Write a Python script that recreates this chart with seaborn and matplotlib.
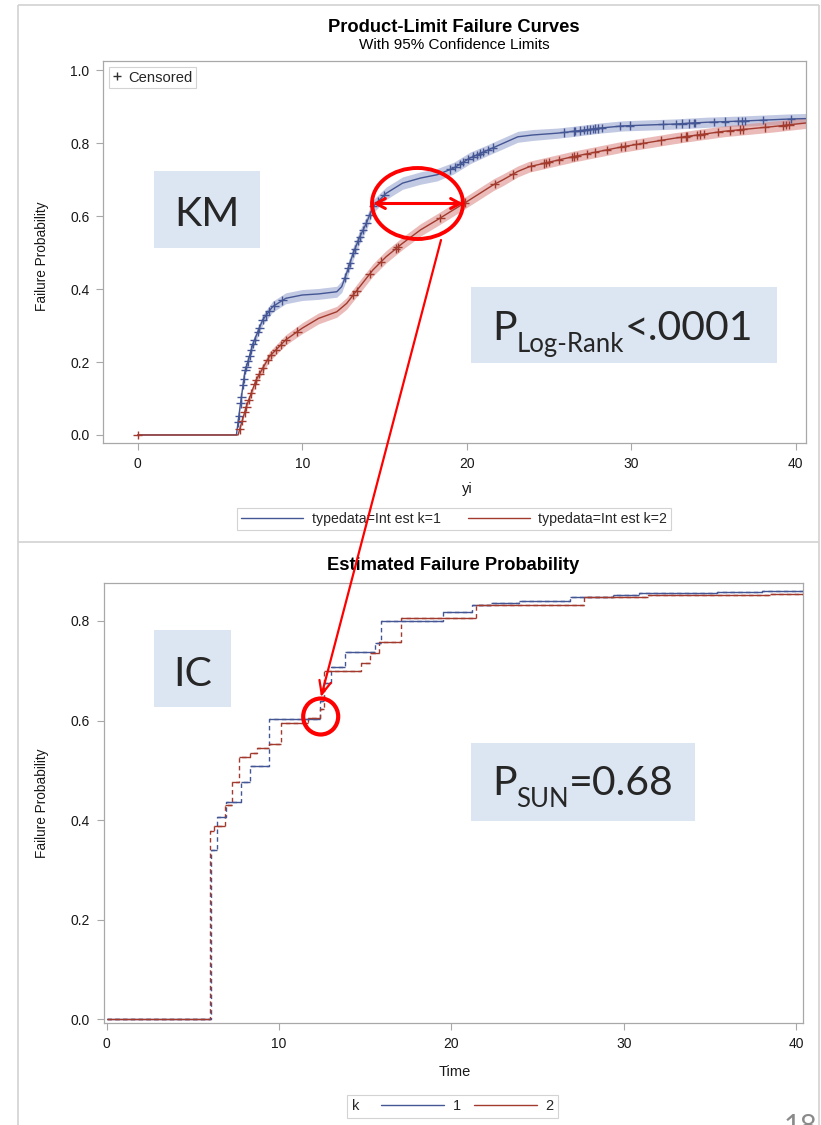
import numpy as np
import pandas as pd
import matplotlib
matplotlib.use("Agg")
import matplotlib.pyplot as plt
import seaborn as sns
from matplotlib.patches import Rectangle, Ellipse
from matplotlib.lines import Line2D
from matplotlib.offsetbox import HPacker

# ---------------------------------------------------------------- data
# Kaplan-Meier failure curves (product-limit estimate) per group
km_time_1 = [0, 6.0, 6.2, 6.5, 7.0, 7.6, 8.2, 9.0, 10.0, 11.0, 12.1, 12.4, 12.7,
             13.1, 13.5, 13.9, 14.3, 15.1, 16.1, 17.2, 18.2, 19.2, 20.2, 21.2,
             22.2, 23.1, 24.0, 25.5, 26.5, 28.1, 29.5, 32.6, 34.6, 36.6, 39.7, 40.6]
km_prob_1 = [0, 0, 0.07, 0.17, 0.25, 0.316, 0.352, 0.375, 0.384, 0.387, 0.393,
             0.407, 0.444, 0.499, 0.544, 0.581, 0.627, 0.663, 0.691, 0.705, 0.714,
             0.732, 0.76, 0.78, 0.80, 0.818, 0.823, 0.828, 0.833, 0.842, 0.848,
             0.853, 0.858, 0.861, 0.867, 0.868]
km_ci_1 = [0, 0, 0.006, 0.009, 0.012, 0.014, 0.015, 0.015, 0.015, 0.015, 0.015,
           0.016, 0.017, 0.018, 0.018, 0.018, 0.018, 0.017, 0.017, 0.017, 0.017,
           0.016, 0.016, 0.015, 0.015, 0.015, 0.015, 0.014, 0.014, 0.014, 0.014,
           0.014, 0.014, 0.014, 0.014, 0.014]

km_time_2 = [0, 6.1, 6.6, 7.2, 8.0, 9.0, 10.0, 11.0, 12.1, 12.7, 13.5, 14.3, 15.1,
             16.1, 17.2, 18.2, 19.2, 20.0, 20.8, 21.6, 22.2, 23.1, 23.8, 26.5,
             29.5, 32.6, 35.6, 38.6, 40.6]
km_prob_2 = [0, 0, 0.078, 0.151, 0.215, 0.261, 0.293, 0.32, 0.338, 0.361, 0.407,
             0.453, 0.489, 0.526, 0.563, 0.59, 0.618, 0.64, 0.663, 0.686, 0.70,
             0.723, 0.736, 0.764, 0.791, 0.814, 0.833, 0.846, 0.856]
km_ci_2 = [0, 0, 0.008, 0.011, 0.013, 0.014, 0.015, 0.015, 0.015, 0.016, 0.017,
           0.017, 0.017, 0.017, 0.017, 0.017, 0.017, 0.016, 0.016, 0.016, 0.016,
           0.015, 0.015, 0.015, 0.015, 0.015, 0.015, 0.015, 0.015]

# censoring times per group
censor_time_1 = [6.1, 6.15, 6.25, 6.3, 6.4, 6.45, 6.55, 6.6, 6.7, 6.8, 6.9, 7.0,
                 7.1, 7.3, 7.4, 7.6, 7.8, 8.0, 8.3, 8.8, 12.6, 12.8, 12.9, 13.1,
                 13.2, 13.4, 13.5, 13.7, 13.9, 14.1, 14.3, 14.6, 15.0, 19.0, 19.3,
                 19.6, 19.8, 20.1, 20.4, 20.6, 20.8, 21.0, 21.3, 21.6, 25.9, 26.5,
                 26.6, 26.9, 27.1, 27.3, 27.5, 27.7, 27.8, 28.0, 28.2, 29.3, 29.9,
                 31.9, 32.7, 33.1, 33.5, 33.8, 33.9, 35.0, 35.7, 36.5, 36.7, 36.9,
                 38.0, 39.7]
censor_time_2 = [0, 6.2, 6.35, 6.5, 6.6, 6.75, 6.9, 7.1, 7.2, 7.4, 7.6, 7.9, 8.1,
                 8.4, 8.7, 9.0, 9.7, 13.1, 13.3, 14.1, 14.8, 15.7, 15.8, 18.4, 19.9,
                 21.7, 22.8, 23.9, 24.7, 24.8, 25.0, 25.6, 26.4, 26.5, 26.7, 27.3,
                 27.8, 28.5, 29.4, 29.6, 30.3, 30.7, 31.8, 33.0, 33.3, 33.4, 34.0,
                 34.2, 34.4, 35.3, 36.0, 36.6, 36.8, 38.1, 39.2, 39.4, 39.6]

# interval-censored (Turnbull) failure probability estimates
ic_time_1 = [0, 6.05, 6.37, 6.9, 7.8, 8.3, 9.44, 12.35, 12.6, 13.0, 13.85, 15.55,
             15.9, 19.5, 21.2, 22.3, 23.9, 26.9, 29.4, 30.9, 35.4, 38.0, 40.4]
ic_prob_1 = [0, 0.339, 0.407, 0.437, 0.477, 0.509, 0.604, 0.640, 0.675, 0.708,
             0.738, 0.755, 0.800, 0.818, 0.832, 0.835, 0.839, 0.847, 0.853, 0.857,
             0.859, 0.861, 0.861]
ic_time_2 = [0, 5.98, 6.22, 6.85, 7.25, 7.65, 8.3, 8.7, 9.44, 10.1, 11.7, 12.35,
             12.6, 14.73, 15.3, 15.8, 17.1, 21.44, 27.7, 31.4, 38.5, 40.4]
ic_prob_2 = [0, 0.379, 0.389, 0.43, 0.477, 0.527, 0.534, 0.545, 0.553, 0.594,
             0.606, 0.624, 0.70, 0.715, 0.735, 0.758, 0.805, 0.832, 0.847, 0.852,
             0.854, 0.854]

group_labels = ["1", "2"]
km_legend_labels = ["typedata=Int est k=1", "typedata=Int est k=2"]
x_ticks = [0, 10, 20, 30, 40]
top_y_ticks = [0.0, 0.2, 0.4, 0.6, 0.8, 1.0]
bottom_y_ticks = [0.0, 0.2, 0.4, 0.6, 0.8]

# ---------------------------------------------------------------- style
sns.set_theme(style="white")
plt.rcParams["font.family"] = ["Liberation Sans", "DejaVu Sans"]

BLUE = "#445694"
RED = "#A23A2E"
palette = {"1": BLUE, "2": RED}
band_colors = {"1": "#9aa6d0", "2": "#dc8f8a"}
SPINE = "#a8a8a8"
TEXT = "#181818"
CALLOUT = "#ff0000"
BOXFILL = "#dce6f2"

W, H = 821, 1125
fig = plt.figure(figsize=(W / 100, H / 100), dpi=100)


def px_axes(left, top, right, bottom):
    return fig.add_axes([left / W, 1 - bottom / H, (right - left) / W, (bottom - top) / H])


def style_axes(ax):
    for s in ax.spines.values():
        s.set_color(SPINE)
        s.set_linewidth(0.9)
    ax.tick_params(axis="both", which="major", direction="out", length=4.7,
                   width=0.8, color=SPINE, labelsize=10, labelcolor=TEXT, pad=5.3,
                   bottom=True, left=True)
    ax.grid(False)


km = pd.concat([
    pd.DataFrame({"time": km_time_1, "prob": km_prob_1, "ci": km_ci_1, "k": "1"}),
    pd.DataFrame({"time": km_time_2, "prob": km_prob_2, "ci": km_ci_2, "k": "2"}),
], ignore_index=True)

cens = pd.concat([
    pd.DataFrame({"time": censor_time_1, "k": "1",
                  "prob": np.interp(censor_time_1, km_time_1, km_prob_1)}),
    pd.DataFrame({"time": censor_time_2, "k": "2",
                  "prob": np.interp(censor_time_2, km_time_2, km_prob_2)}),
], ignore_index=True)

ic = pd.concat([
    pd.DataFrame({"time": ic_time_1, "prob": ic_prob_1, "k": "1"}),
    pd.DataFrame({"time": ic_time_2, "prob": ic_prob_2, "k": "2"}),
], ignore_index=True)

# ---------------------------------------------------------------- top: KM curves
ax1 = px_axes(103.3, 61, 805.7, 443)
style_axes(ax1)
for g, d in km.groupby("k"):
    ax1.fill_between(d["time"], d["prob"] - d["ci"], d["prob"] + d["ci"],
                     color=band_colors[g], alpha=0.6, lw=0, zorder=1)
sns.lineplot(data=km, x="time", y="prob", hue="k", palette=palette,
             estimator=None, sort=False, lw=1.0, legend=False, ax=ax1, zorder=3)
sns.scatterplot(data=cens, x="time", y="prob", hue="k", palette=palette,
                marker="+", s=38, linewidth=1.0, legend=False, ax=ax1, zorder=4)
ax1.set_xlim(-2.09, 40.6)
ax1.set_ylim(-0.022, 1.026)
ax1.set_xticks(x_ticks)
ax1.set_yticks(top_y_ticks)
ax1.yaxis.set_major_formatter(matplotlib.ticker.FormatStrFormatter("%.1f"))
ax1.set_xlabel("yi", fontsize=10.5, color=TEXT)
ax1.set_ylabel("Failure Probability", fontsize=9.8, color=TEXT)
ax1.xaxis.set_label_coords(0.518, -0.12)
ax1.xaxis.label.set_va("center")
ax1.yaxis.set_label_coords(-0.0873, 0.49)
ax1.yaxis.label.set_va("center")

cens_leg = ax1.legend(handles=[Line2D([], [], marker="+", ls="none", color="#303030",
                                      ms=5.5, mew=1.0)],
                      labels=["Censored"], loc="upper left", fontsize=10.6,
                      frameon=True, fancybox=False, edgecolor="#c8c8c8",
                      handlelength=0.6, handletextpad=0.45, borderpad=0.25,
                      borderaxespad=0.4)
cens_leg.get_frame().set_linewidth(0.8)

fig.text(454 / W, 1 - 27 / H, "Product-Limit Failure Curves", ha="center",
         va="center", fontsize=13.2, fontweight="bold", color="#000000")
fig.text(454.5 / W, 1 - 45 / H, "With 95% Confidence Limits", ha="center",
         va="center", fontsize=11, color="#000000")

top_leg = fig.legend(handles=[Line2D([], [], color=BLUE, lw=1.0),
                              Line2D([], [], color=RED, lw=1.0)],
                     labels=km_legend_labels, loc="center",
                     bbox_to_anchor=(454 / W, 1 - 519 / H), ncol=2, fontsize=10.2,
                     frameon=True, fancybox=False, edgecolor="#c8c8c8",
                     handlelength=4.4, handletextpad=0.6, columnspacing=1.9,
                     borderpad=0.3)
top_leg.get_frame().set_linewidth(0.8)

# ---------------------------------------------------------------- bottom: IC estimates
ax2 = px_axes(104, 583.3, 803.3, 1022.7)
style_axes(ax2)
sns.lineplot(data=ic, x="time", y="prob", hue="k", palette=palette,
             estimator=None, sort=False, lw=1.0, legend=False, ax=ax2,
             drawstyle="steps-post", linestyle=(0, (3.2, 2.4)), zorder=3)
for g, d in ic.groupby("k"):
    t = d["time"].to_numpy()
    p = d["prob"].to_numpy()
    ax2.hlines(p[:-1], t[:-1], t[1:], color=palette[g], lw=1.0, zorder=3)
ax2.set_xlim(-0.16, 40.42)
ax2.set_ylim(-0.0068, 0.8755)
ax2.set_xticks(x_ticks)
ax2.set_yticks(bottom_y_ticks)
ax2.yaxis.set_major_formatter(matplotlib.ticker.FormatStrFormatter("%.1f"))
ax2.set_xlabel("Time", fontsize=10.5, color=TEXT)
ax2.set_ylabel("Failure Probability", fontsize=9.8, color=TEXT)
ax2.xaxis.set_label_coords(0.502, -0.112)
ax2.xaxis.label.set_va("center")
ax2.yaxis.set_label_coords(-0.0887, 0.5)
ax2.yaxis.label.set_va("center")

fig.text(453 / W, 1 - 565 / H, "Estimated Failure Probability", ha="center",
         va="center", fontsize=13.2, fontweight="bold", color="#000000")

bot_leg = fig.legend(handles=[Line2D([], [], color=BLUE, lw=1.0),
                              Line2D([], [], color=RED, lw=1.0)],
                     labels=group_labels, title="k", loc="center",
                     bbox_to_anchor=(452.5 / W, 1 - 1106.5 / H), ncol=2,
                     fontsize=10.5, title_fontsize=10.5, frameon=True,
                     fancybox=False, edgecolor="#c8c8c8", handlelength=4.3,
                     handletextpad=0.6, columnspacing=0.9, borderpad=0.3)
bot_leg.get_frame().set_linewidth(0.8)
# put the legend title to the left of the entries
bot_leg._legend_box.__class__ = HPacker
bot_leg._legend_box.align = "center"
bot_leg._legend_box.sep = 16

# ---------------------------------------------------------------- slide overlay
ov = fig.add_axes([0, 0, 1, 1], zorder=10)
ov.set_xlim(0, W)
ov.set_ylim(H, 0)
ov.axis("off")
ov.patch.set_alpha(0)

frame_kw = dict(color="#d2d2d2", lw=1.2, solid_capstyle="butt")
ov.plot([18, 18], [5, H], **frame_kw)
ov.plot([819, 819], [5, H], **frame_kw)
ov.plot([18, 819], [5, 5], **frame_kw)
ov.plot([18, 819], [541.7, 541.7], **frame_kw)

ov.add_patch(Rectangle((154, 171), 106, 77, fc=BOXFILL, ec="none"))
ov.add_patch(Rectangle((471, 287), 306, 76, fc=BOXFILL, ec="none"))
ov.add_patch(Rectangle((154, 630), 77, 77, fc=BOXFILL, ec="none"))
ov.add_patch(Rectangle((471, 743), 224, 78, fc=BOXFILL, ec="none"))

BIG = 29.5
SMALL = 18.5
ov.text(207, 225.7, "KM", fontsize=BIG, family="Lato", ha="center", va="baseline")
ov.text(192.5, 685.5, "IC", fontsize=BIG, family="Lato", ha="center", va="baseline")

renderer = fig.canvas.get_renderer()


def text_runs(x, y, runs):
    for s, size, dy in runs:
        t = ov.text(x, y + dy, s, fontsize=size, family="Lato", ha="left",
                    va="baseline")
        x += t.get_window_extent(renderer=renderer).width


text_runs(492, 340, [("P", BIG, 0), ("Log-Rank", SMALL, 12), ("<.0001", BIG, 0)])
text_runs(492, 795, [("P", BIG, 0), ("SUN", SMALL, 12), ("=0.68", BIG, 0)])

ov.add_patch(Ellipse((417.5, 203.5), 91, 71, fill=False, ec=CALLOUT, lw=2.8))
ov.annotate("", xy=(373, 203.5), xytext=(463, 203.5),
            arrowprops=dict(arrowstyle="<->,head_length=0.55,head_width=0.3",
                            color=CALLOUT, lw=2.2, shrinkA=0, shrinkB=0))
ov.annotate("", xy=(321, 697), xytext=(441, 240),
            arrowprops=dict(arrowstyle="->,head_length=0.8,head_width=0.35",
                            color=CALLOUT, lw=1.6, shrinkA=0, shrinkB=0))
ov.add_patch(Ellipse((320.7, 716.5), 35, 36, fill=False, ec=CALLOUT, lw=3.0))

# slide page number, partly below the lower edge of the slide
ov.text(801, 1114, "18", fontsize=21, family="Lato", color="#8a8a8a",
        ha="center", va="top")

fig.savefig("out.png", dpi=100)
